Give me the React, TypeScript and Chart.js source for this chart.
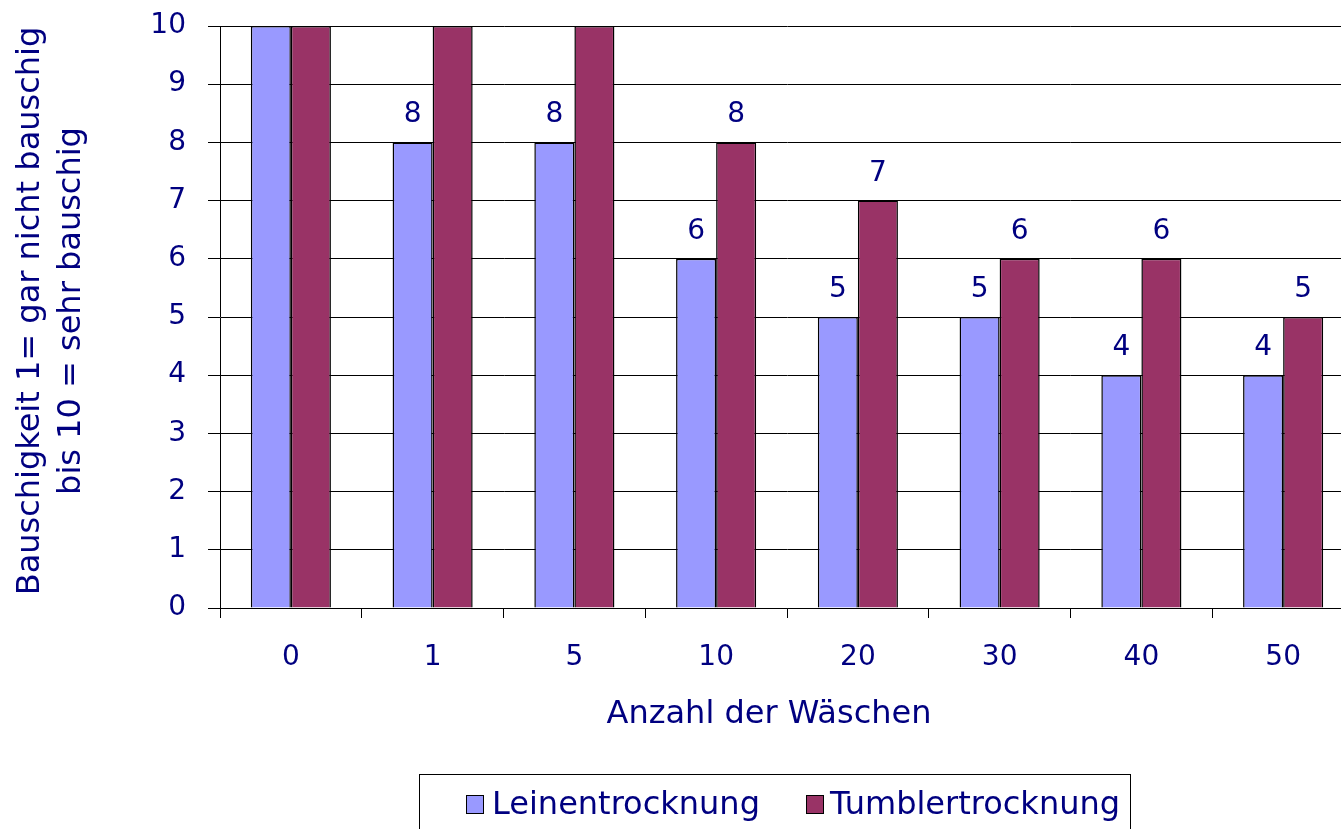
import React, { useEffect, useRef } from "react";
import { Chart, registerables } from "chart.js";

Chart.register(...registerables);

const categories = ["0", "1", "5", "10", "20", "30", "40", "50"];
const leinenValues = [10, 8, 8, 6, 5, 5, 4, 4];
const tumblerValues = [10, 10, 10, 8, 7, 6, 6, 5];
const seriesNames = ["Leinentrocknung", "Tumblertrocknung"];
const xTitle = "Anzahl der Wäschen";
const yTitleLines = ["Bauschigkeit 1= gar nicht bauschig", "bis 10 = sehr bauschig"];

const BLUE = "#9999ff";
const MAROON = "#993366";
const NAVY = "#000080";
const FONT = "'DejaVu Sans', Verdana, sans-serif";

const decorPlugin = {
  id: "decor",
  afterDatasetsDraw(chart: any) {
    const ctx = chart.ctx;
    ctx.save();
    ctx.fillStyle = NAVY;
    ctx.font = `28px ${FONT}`;
    ctx.textAlign = "center";
    ctx.textBaseline = "alphabetic";
    chart.data.datasets.forEach((ds: any, di: number) => {
      const meta = chart.getDatasetMeta(di);
      meta.data.forEach((el: any, i: number) => {
        const v = ds.data[i];
        if (v < 10) ctx.fillText(String(v), el.x, el.y - 20);
      });
    });
    ctx.restore();
  },
  afterDraw(chart: any) {
    const ctx = chart.ctx;
    ctx.save();
    ctx.fillStyle = NAVY;
    // x title
    ctx.font = `32px ${FONT}`;
    ctx.textAlign = "center";
    ctx.textBaseline = "alphabetic";
    ctx.fillText(xTitle, 769, 723);
    // y title
    ctx.save();
    ctx.translate(0, 311);
    ctx.rotate(-Math.PI / 2);
    ctx.textBaseline = "middle";
    ctx.fillText(yTitleLines[0], 0, 31);
    ctx.fillText(yTitleLines[1], 0, 72);
    ctx.restore();
    // legend
    ctx.strokeStyle = "#000";
    ctx.lineWidth = 1;
    ctx.strokeRect(419.5, 774.5, 711, 80);
    const items = [
      { name: seriesNames[0], color: BLUE, sx: 466, tx: 492 },
      { name: seriesNames[1], color: MAROON, sx: 806, tx: 830 },
    ];
    items.forEach((it) => {
      ctx.fillStyle = it.color;
      ctx.fillRect(it.sx, 795, 17, 18);
      ctx.strokeStyle = "#000";
      ctx.strokeRect(it.sx + 0.5, 795.5, 17, 18);
      ctx.fillStyle = NAVY;
      ctx.textAlign = "left";
      ctx.textBaseline = "alphabetic";
      ctx.font = `32px ${FONT}`;
      ctx.fillText(it.name, it.tx, 814);
    });
    ctx.restore();
  },
};

export default function App() {
  const ref = useRef<HTMLCanvasElement>(null);
  useEffect(() => {
    document.body.style.margin = "0";
    document.body.style.overflow = "hidden";
    const chart = new Chart(ref.current!, {
      type: "bar",
      data: {
        labels: categories,
        datasets: [
          {
            label: seriesNames[0],
            data: leinenValues,
            backgroundColor: BLUE,
            borderColor: "#000",
            borderWidth: 1.5,
            categoryPercentage: 0.565,
            barPercentage: 1,
          },
          {
            label: seriesNames[1],
            data: tumblerValues,
            backgroundColor: MAROON,
            borderColor: "#000",
            borderWidth: 1.5,
            categoryPercentage: 0.565,
            barPercentage: 1,
          },
        ],
      },
      options: {
        responsive: false,
        animation: false,
        devicePixelRatio: 1,
        layout: { padding: { top: 26, right: 6, left: 0, bottom: 0 } },
        plugins: { legend: { display: false }, tooltip: { enabled: false } },
        scales: {
          x: {
            grid: {
              drawOnChartArea: false,
              drawTicks: true,
              tickLength: 10,
              color: "#000",
              offset: true,
            },
            border: { display: true, color: "#000" },
            ticks: {
              color: NAVY,
              font: { family: FONT, size: 28 },
              padding: 23,
              maxRotation: 0,
            },
            afterFit: (s: any) => {
              s.height = 221;
              s.paddingLeft = 0;
              s.paddingRight = 0;
            },
          },
          y: {
            min: 0,
            max: 10,
            ticks: {
              stepSize: 1,
              color: NAVY,
              font: { family: FONT, size: 28 },
              padding: 22,
            },
            grid: { color: "#000", tickLength: 12 },
            border: { display: true, color: "#000" },
            afterFit: (s: any) => {
              s.width = 220;
              s.paddingTop = 0;
              s.paddingBottom = 0;
            },
          },
        },
      },
      plugins: [decorPlugin],
    });
    return () => chart.destroy();
  }, []);
  return (
    <div style={{ width: 1341, height: 829, overflow: "hidden", background: "#fff" }}>
      <canvas ref={ref} width={1360} height={829} style={{ display: "block" }} />
    </div>
  );
}
